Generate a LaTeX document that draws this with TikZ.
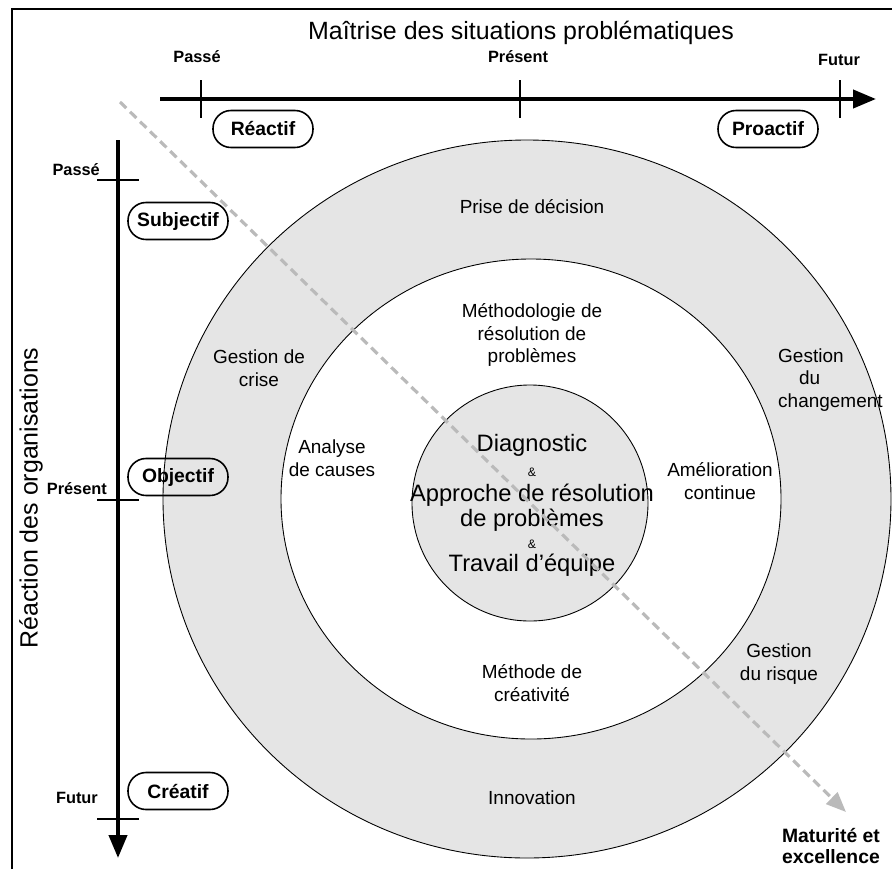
\documentclass[tikz,border=0pt]{standalone}
\usepackage{fontspec}
\setmainfont{Liberation Sans}
\usetikzlibrary{arrows.meta,positioning}

\begin{document}
\begin{tikzpicture}[
    x=0.02cm, y=-0.02cm,
    pill/.style={rectangle,draw,line width=0.9pt,rounded corners=0.36cm,minimum width=2cm,minimum height=0.74cm,inner xsep=3pt,font=\bfseries\fontsize{11}{12}\selectfont},
    ticklabel/.style={font=\bfseries\fontsize{9.3}{10}\selectfont},
    ringtext/.style={align=center,font=\fontsize{10.8}{13}\selectfont},
    bigtext/.style={font=\fontsize{14.2}{16}\selectfont},
    timeaxis/.style={line width=2.3pt,-{Triangle[length=0.46cm,width=0.36cm]}},
    tickmark/.style={line width=1.6pt},
    ring/.style={draw,line width=0.5pt},
    maturity/.style={draw=black!27,line width=1.8pt,dash pattern=on 5pt off 3pt,-{Triangle[length=0.4cm,width=0.32cm]}}
]
\useasboundingbox (0,0) rectangle (892,869);
\draw[line width=0.8pt] (12,869) -- (12,9) -- (892,9);

\filldraw[ring,fill=black!10] (527,499) ellipse [x radius=364,y radius=359];
\filldraw[ring,fill=white] (531,499) ellipse [x radius=250,y radius=240];
\filldraw[ring,fill=black!10] (530,503) circle [radius=118];

\node[bigtext] (title) at (521,33) {Maîtrise des situations problématiques};
\node[bigtext,rotate=90] (reaction) at (31,498) {Réaction des organisations};

\coordinate (hstart) at (160,99);
\coordinate (hend) at (876,99);
\coordinate (vstart) at (118,140);
\coordinate (vend) at (118,858);
\draw[timeaxis] (hstart) -- (hend);
\draw[timeaxis] (vstart) -- (vend);

\foreach \x in {201,520,840}
    \draw[tickmark] (\x,80) -- (\x,118);
\foreach \y in {180,500,819}
    \draw[tickmark] (97,\y) -- (139,\y);

\node[ticklabel] (hpasse) at (197,57) {Passé};
\node[ticklabel] (hpresent) at (518,57) {Présent};
\node[ticklabel] (hfutur) at (839,60) {Futur};
\node[ticklabel,anchor=east] (vpasse) at (106,170) {Passé};
\node[ticklabel,anchor=east] (vpresent) at (113,489) {Présent};
\node[ticklabel,anchor=east] (vfutur) at (104,798) {Futur};

\node[pill] (reactif) at (263,129) {Réactif};
\node[pill] (proactif) at (768,129) {Proactif};
\node[pill] (subjectif) at (178,221) {Subjectif};
\node[pill] (objectif) at (178,477) {Objectif};
\node[pill] (creatif) at (178,791) {Créatif};

\node[ringtext] (decision) at (532,207) {Prise de décision};
\node[ringtext] (crise) at (259,368) {Gestion de\\crise};
\node[ringtext,align=left,anchor=west] (changement) at (772,380) {Gestion\\\hspace*{1.1em}du\\changement};
\node[ringtext] (risque) at (779,664) {Gestion\\du risque};
\node[ringtext] (innovation) at (532,798) {Innovation};
\node[ringtext] (methodologie) at (532,335) {Méthodologie de\\résolution de\\problèmes};
\node[ringtext] (causes) at (332,458) {Analyse\\de causes};
\node[ringtext] (amelioration) at (720,481) {Amélioration\\continue};
\node[ringtext] (creativite) at (532,683) {Méthode de\\créativité};
\node[align=center,font=\fontsize{13.5}{14.2}\selectfont] (core) at (532,505)
    {Diagnostic\\{\fontsize{7}{7}\selectfont\&}\\Approche de résolution\\de problèmes\\[-1.4pt]{\fontsize{7}{7}\selectfont\&}\\[-1.4pt]Travail d’équipe};

\node[align=right,anchor=east,font=\bfseries\fontsize{11}{12.5}\selectfont] (excellence) at (886,846) {Maturité et\\excellence};
\coordinate (mstart) at (120,102);
\coordinate (mend) at (846,812);
\draw[maturity] (mstart) -- (mend);
\end{tikzpicture}
\end{document}
